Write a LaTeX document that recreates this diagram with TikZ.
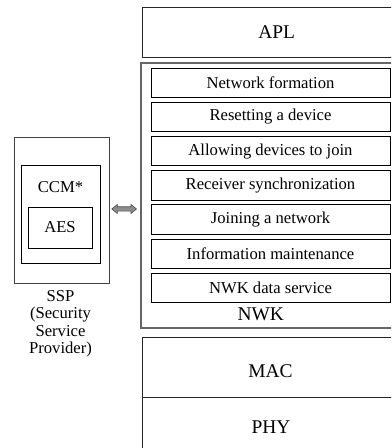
\documentclass[tikz,border=0pt]{standalone}
\usepackage{fontspec}
\setmainfont{Liberation Serif}
\begin{document}
\begin{tikzpicture}[x=1bp,y=-1bp,
  box/.style={draw=black, line width=0.8bp, inner sep=0pt, outer sep=0pt, anchor=north west},
  layer/.style={draw=black!85, line width=0.9bp, inner sep=0pt, outer sep=0pt, anchor=north west},
  nwkouter/.style={draw=black!60, line width=1.4bp, inner sep=0pt, outer sep=0pt, anchor=north west},
  big/.style={font=\fontsize{19.5}{22}\selectfont, inner sep=0pt},
  small/.style={font=\fontsize{16.7}{19}\selectfont, inner sep=0pt},
  ssplabel/.style={font=\fontsize{16.7}{17.6}\selectfont, align=center, inner sep=0pt}]
\useasboundingbox (0,0) rectangle (391,448);
\clip (0,0) rectangle (391,448);
% right stack
\node[layer, minimum width=270bp, minimum height=50bp] (apl) at (142,7) {};
\node[big] (apltext) at (276.7,32) {APL};
\node[nwkouter, minimum width=270bp, minimum height=265bp] (nwk) at (141,63) {};
\node[big] (nwktext) at (260.7,314.5) {NWK};
\node[layer, minimum width=270bp, minimum height=60bp] (mac) at (142,337.5) {};
\node[big] (mactext) at (270.5,371) {MAC};
\node[layer, minimum width=270bp, minimum height=60bp] (phy) at (142,397.5) {};
\node[big] (phytext) at (271,427) {PHY};
% NWK services
\foreach \i/\t/\n in {0/Network formation/s1,1/Resetting a device/s2,2/Allowing devices to join/s3,3/Receiver synchronization/s4,4/Joining a network/s5,5/Information maintenance/s6,6/NWK data service/s7}{
  \node[box, minimum width=239bp, minimum height=29.5bp] (\n) at (151,68+34.2*\i) {};
  \node[small] at (\n.center) {\t};
}
% SSP
\node[box, draw=black!75, minimum width=95bp, minimum height=146bp] (ssp) at (14,137) {};
\node[box, minimum width=79bp, minimum height=98bp] (ccm) at (21,165) {};
\node[small] (ccmtext) at (60.5,186.7) {CCM*};
\node[box, minimum width=64bp, minimum height=41bp] (aes) at (28,207) {};
\node[small] at (aes.center) {AES};
\node[ssplabel, anchor=north] (ssptext) at (60.5,290) {SSP\\(Security\\Service\\Provider)};
% double arrow
\coordinate (arrL) at (111.8,209);
\coordinate (arrR) at (136.5,209);
\draw[draw=black!70, fill=black!45, line width=0.6bp, line join=miter]
  (arrL) -- ++(5.5,-4.5) -- ++(0,2.3) -- ++(13.7,0) -- ++(0,-2.3) -- (arrR)
  -- ++(-5.5,4.5) -- ++(0,-2.3) -- ++(-13.7,0) -- ++(0,2.3) -- cycle;
\end{tikzpicture}
\end{document}
